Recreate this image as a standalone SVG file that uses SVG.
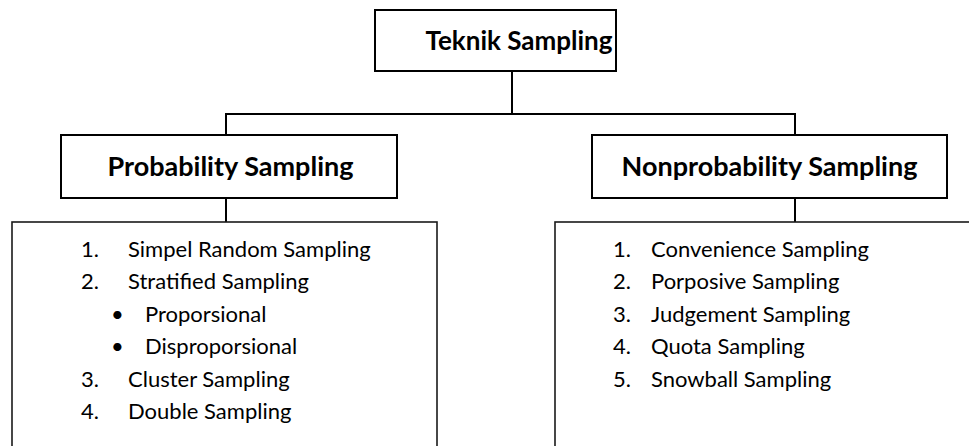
<svg xmlns="http://www.w3.org/2000/svg" width="969" height="446" viewBox="0 0 969 446">
  <style>
    .box { fill: #ffffff; stroke: #000000; stroke-width: 2; }
    .list { fill: #ffffff; stroke: #1a1a1a; stroke-width: 1.6; }
    .conn { stroke: #000000; stroke-width: 2; fill: none; }
    .title { font-family: Lato, "Liberation Sans", sans-serif; font-weight: bold; fill: #000; text-anchor: middle; }
    .root { font-size: 26px; }
    .branch { font-size: 27px; }
    .item { font-family: Lato, "Liberation Sans", sans-serif; font-size: 22px; fill: #000; }
  </style>
  <rect width="969" height="446" fill="#ffffff"/>

  <!-- connectors -->
  <g id="connectors">
    <line class="conn" x1="512" y1="71" x2="512" y2="114"/>
    <line class="conn" x1="225" y1="114" x2="796" y2="114"/>
    <line class="conn" x1="226" y1="114" x2="226" y2="135"/>
    <line class="conn" x1="795" y1="114" x2="795" y2="135"/>
    <line class="conn" x1="226" y1="199" x2="226" y2="222"/>
    <line class="conn" x1="795" y1="199" x2="795" y2="222"/>
  </g>

  <!-- root -->
  <g id="teknik-sampling">
    <rect class="box" x="375" y="10" width="241" height="61"/>
    <text class="title root" x="519" y="50">Teknik Sampling</text>
  </g>

  <!-- probability branch -->
  <g id="probability-sampling">
    <rect class="box" x="61" y="135" width="336" height="63"/>
    <text class="title branch" x="230.5" y="176">Probability Sampling</text>
  </g>
  <g id="probability-list">
    <rect class="list" x="12" y="222" width="425" height="240"/>
    <text class="item" x="81" y="257">1.</text>
    <text class="item" x="128" y="257">Simpel Random Sampling</text>
    <text class="item" x="81" y="289">2.</text>
    <text class="item" x="128" y="289">Stratified Sampling</text>
    <text class="item" x="111" y="322">•</text>
    <text class="item" x="145" y="322">Proporsional</text>
    <text class="item" x="111" y="354">•</text>
    <text class="item" x="145" y="354">Disproporsional</text>
    <text class="item" x="81" y="387">3.</text>
    <text class="item" x="128" y="387">Cluster Sampling</text>
    <text class="item" x="81" y="419">4.</text>
    <text class="item" x="128" y="419">Double Sampling</text>
  </g>

  <!-- nonprobability branch -->
  <g id="nonprobability-sampling">
    <rect class="box" x="592" y="135" width="355" height="63"/>
    <text class="title branch" x="769.5" y="176">Nonprobability Sampling</text>
  </g>
  <g id="nonprobability-list">
    <rect class="list" x="555" y="222" width="430" height="240"/>
    <text class="item" x="613" y="257">1.</text>
    <text class="item" x="651" y="257">Convenience Sampling</text>
    <text class="item" x="613" y="289">2.</text>
    <text class="item" x="651" y="289">Porposive Sampling</text>
    <text class="item" x="613" y="322">3.</text>
    <text class="item" x="651" y="322">Judgement Sampling</text>
    <text class="item" x="613" y="354">4.</text>
    <text class="item" x="651" y="354">Quota Sampling</text>
    <text class="item" x="613" y="387">5.</text>
    <text class="item" x="651" y="387">Snowball Sampling</text>
  </g>
</svg>
